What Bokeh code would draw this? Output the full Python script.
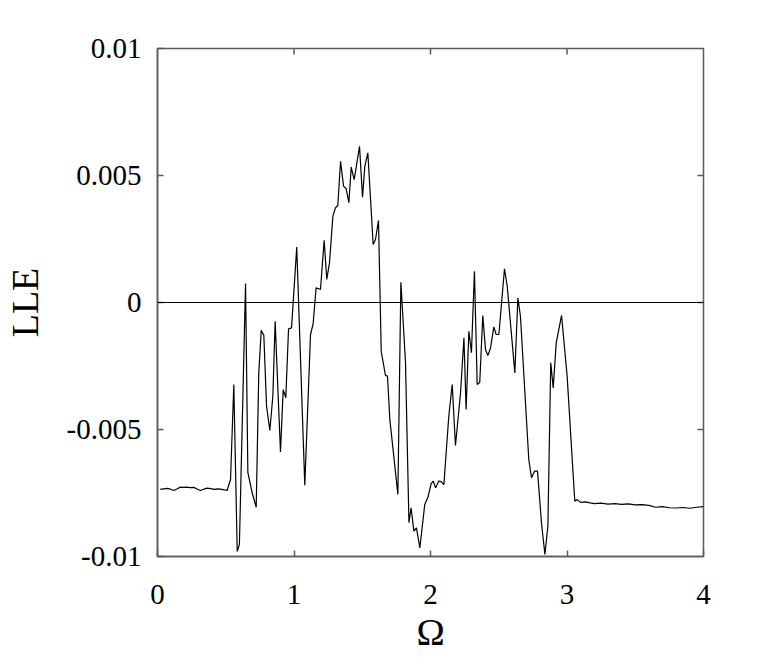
from bokeh.plotting import figure
from bokeh.models import Range1d, FixedTicker, Span
from bokeh.embed import file_html
from bokeh.resources import INLINE

omega = [0.02, 0.045, 0.071, 0.095, 0.12, 0.145, 0.168, 0.19, 0.215, 0.24, 0.266, 0.29, 0.315, 0.34, 0.364, 0.39,
         0.413, 0.44, 0.462, 0.49, 0.51, 0.535, 0.559, 0.584, 0.60, 0.645, 0.662, 0.694, 0.723, 0.742,
         0.76, 0.779, 0.799, 0.823, 0.845, 0.862, 0.882, 0.901, 0.921, 0.94, 0.96, 0.982, 1.02, 1.079,
         1.121, 1.14, 1.162, 1.194, 1.221, 1.24, 1.26, 1.285, 1.304, 1.321, 1.341, 1.363, 1.382, 1.402,
         1.419, 1.441, 1.48, 1.502, 1.519, 1.541, 1.58, 1.597, 1.619, 1.639, 1.67, 1.685, 1.702, 1.761,
         1.783, 1.817, 1.842, 1.858, 1.878, 1.897, 1.922, 1.958, 1.98, 2.005, 2.02, 2.037, 2.06, 2.078,
         2.098, 2.134, 2.159, 2.183, 2.22, 2.245, 2.261, 2.281, 2.30, 2.322, 2.342, 2.361, 2.383, 2.403,
         2.42, 2.44, 2.464, 2.481, 2.501, 2.542, 2.562, 2.618, 2.64, 2.659, 2.72, 2.74, 2.762, 2.784,
         2.813, 2.838, 2.86, 2.881, 2.899, 2.921, 2.96, 3.001, 3.057, 3.075, 3.10, 3.135, 3.17, 3.20,
         3.25, 3.30, 3.35, 3.40, 3.45, 3.50, 3.55, 3.60, 3.65, 3.70, 3.75, 3.80, 3.85, 3.90, 3.95, 4.0]

lle = [-0.00736, -0.00734, -0.00732, -0.00735, -0.0074, -0.00733, -0.00727, -0.00728, -0.00727, -0.00729,
       -0.00728, -0.00734, -0.0074, -0.00735, -0.00731, -0.00733, -0.00736, -0.00734, -0.00735, -0.00738,
       -0.0074, -0.00697, -0.00323, -0.0098, -0.00953, 0.00075, -0.0067, -0.0075, -0.00806, -0.00277,
       -0.00109, -0.0013, -0.00408, -0.00504, -0.00369, -0.00074, -0.00343, -0.00588, -0.00343, -0.00375,
       -0.00104, -0.001, 0.00218, -0.00719,
       -0.00126, -0.00084, 0.00058, 0.00051, 0.00245, 0.00091, 0.00156, 0.0034, 0.00373, 0.00382,
       0.00556, 0.00458, 0.00448, 0.00393, 0.00533, 0.00484, 0.00615, 0.00415, 0.00537, 0.00589,
       0.00228, 0.00248, 0.00323, -0.00192, -0.00287, -0.0029, -0.0046, -0.00756,
       0.0008, -0.00237, -0.00867, -0.00808, -0.009, -0.00887, -0.00966, -0.00795, -0.00769, -0.00713,
       -0.00703, -0.0073, -0.00703, -0.00705,
       -0.00717, -0.00448, -0.00323, -0.00563, -0.00356, -0.00139, -0.00421, -0.00113, -0.00198, 0.00123,
       -0.00323, -0.00314, -0.00051, -0.00185, -0.00209, -0.00178, -0.00096, -0.00126, -0.00126, 0.00133,
       0.00064, -0.00277, 0.00018, -0.00054, -0.00618, -0.0069, -0.00664, -0.00664,
       -0.00867, -0.00992, -0.00881, -0.00237, -0.00336, -0.00159, -0.00051, -0.0029, -0.00782, -0.00776,
       -0.00787, -0.00785, -0.00789, -0.00792, -0.00790, -0.00794, -0.00792, -0.00795, -0.00793, -0.00797,
       -0.00796, -0.00799, -0.00806, -0.00804, -0.00808, -0.00809, -0.00807, -0.00810, -0.00806, -0.00804]

x_ticks = [0, 1, 2, 3, 4]
y_ticks = [-0.01, -0.005, 0, 0.005, 0.01]
y_tick_labels = {-0.01: "-0.01", -0.005: "-0.005", 0: "0", 0.005: "0.005", 0.01: "0.01"}

FONT = "Liberation Serif"
FRAME = "#5a5a5a"
X0, X1, Y0, Y1 = 0, 4, -0.01, 0.01

p = figure(width=770, height=655, output_backend="svg", toolbar_location=None,
           x_range=Range1d(X0, X1), y_range=Range1d(Y0, Y1),
           min_border_left=156, min_border_right=67, min_border_top=48, min_border_bottom=98)
p.background_fill_color = "white"
p.border_fill_color = "white"
p.outline_line_color = FRAME
p.outline_line_width = 1.5
p.grid.visible = False

p.line(omega, lle, line_color="black", line_width=1.2)
p.add_layout(Span(location=0, dimension="width", line_color="black", line_width=1.2))

# inner ticks on top and right edges (mirroring the bottom/left axes)
tx = (X1 - X0) / 546 * 6
ty = (Y1 - Y0) / 509 * 6
inner_x = [t for t in x_ticks if X0 < t < X1]
inner_y = [t for t in y_ticks if Y0 < t < Y1]
p.segment(x0=inner_x, y0=[Y1] * len(inner_x), x1=inner_x, y1=[Y1 - ty] * len(inner_x),
          line_color=FRAME, line_width=1.5)
p.segment(x0=[X1] * len(inner_y), y0=inner_y, x1=[X1 - tx] * len(inner_y), y1=inner_y,
          line_color=FRAME, line_width=1.5)

for ax in (p.xaxis[0], p.yaxis[0]):
    ax.axis_line_color = FRAME
    ax.axis_line_width = 1.5
    ax.major_tick_in = 6
    ax.major_tick_out = 0
    ax.minor_tick_line_color = None
    ax.major_tick_line_color = FRAME
    ax.major_tick_line_width = 1.5
    ax.major_label_text_font = FONT
    ax.major_label_text_font_size = "29px"
    ax.major_label_text_color = "black"
    ax.axis_label_text_font = FONT
    ax.axis_label_text_font_size = "38px"
    ax.axis_label_text_font_style = "normal"
    ax.axis_label_text_color = "black"

p.xaxis[0].ticker = FixedTicker(ticks=x_ticks)
p.yaxis[0].ticker = FixedTicker(ticks=y_ticks)
p.yaxis[0].major_label_overrides = y_tick_labels
p.xaxis[0].axis_label = "Ω"
p.yaxis[0].axis_label = "LLE"
p.xaxis[0].major_label_standoff = 28
p.yaxis[0].major_label_standoff = 16
p.xaxis[0].axis_label_standoff = 4
p.yaxis[0].axis_label_standoff = 18

open("out.html", "w").write(file_html(p, INLINE))
